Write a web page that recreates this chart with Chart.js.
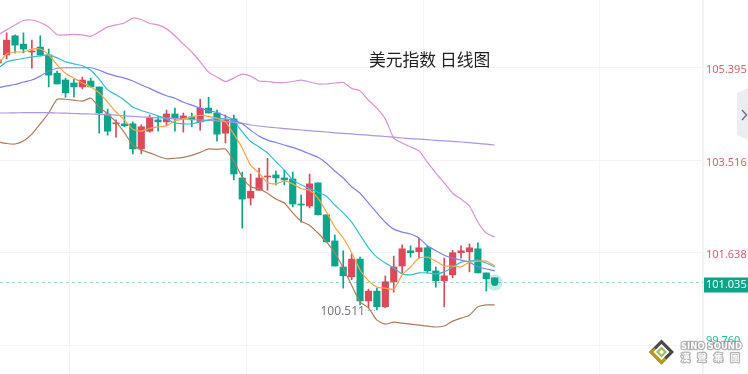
<!DOCTYPE html>
<html>
<head>
<meta charset="utf-8">
<script src="https://cdn.jsdelivr.net/npm/chart.js@4"></script>
<style>
html,body{margin:0;padding:0;background:#fff;overflow:hidden}
#w{position:relative;width:748px;height:374px}
canvas{display:block}
</style>
</head>
<body>
<div id="w"><canvas id="c" width="748" height="374"></canvas></div>
<script>
const titleText = '美元指数 日线图';
const lowLabel = '100.511';
const lastPrice = 101.035;
const tickLabels = [105.395, 103.516, 101.638, 101.035, 99.760];
const verticalGrid = [19, 40, 61, 82];

const opens = [105.50,105.66,106.05,105.88,105.72,105.82,105.66,105.29,105.15,105.09,105.01,105.13,105.01,104.46,104.26,104.26,104.26,103.75,104.11,104.34,104.30,104.46,104.36,104.40,104.30,104.58,104.48,104.07,104.36,103.16,102.75,102.91,103.18,103.22,103.16,103.14,102.63,102.59,103.06,102.41,101.88,101.35,101.15,101.51,100.66,100.86,100.54,101.05,101.37,101.68,101.66,101.74,101.27,101.07,101.19,101.64,101.66,101.72,101.23,101.13];
const closes = [105.56,105.96,105.86,105.78,105.74,105.66,105.25,105.07,104.89,105.01,105.15,105.01,104.48,104.11,104.28,104.22,103.75,104.20,104.38,104.30,104.46,104.36,104.42,104.34,104.58,104.48,104.05,104.34,103.24,102.73,102.89,103.16,103.20,103.16,103.12,102.63,102.61,103.04,102.41,101.86,101.37,101.17,101.51,100.66,100.86,100.54,101.05,101.35,101.72,101.64,101.74,101.27,101.07,101.17,101.64,101.68,101.74,101.23,101.11,101.035];
const highs = [105.60,106.11,106.07,106.11,105.96,106.05,105.78,105.33,105.19,105.17,105.21,105.19,105.01,104.56,104.34,104.52,104.30,104.24,104.44,104.42,104.54,104.58,104.48,104.48,104.76,104.80,104.54,104.44,104.44,103.28,103.24,103.36,103.56,103.30,103.32,103.28,102.81,103.24,103.06,102.41,102.00,101.68,101.61,101.55,100.90,100.92,101.17,101.57,101.80,101.78,101.94,101.78,101.35,101.53,101.69,101.78,101.82,101.84,101.23,101.13];
const lows = [105.46,105.58,105.70,105.70,105.39,105.64,105.01,105.07,104.80,104.80,104.97,105.01,104.07,104.03,103.99,104.20,103.65,103.65,104.09,104.11,104.22,104.11,104.09,104.20,104.13,104.48,103.91,103.87,103.12,102.14,102.61,102.91,102.91,103.02,103.02,102.57,102.26,102.55,102.41,101.86,101.37,100.92,101.09,100.58,100.52,100.48,100.52,100.84,101.23,101.55,101.53,101.23,100.94,100.54,101.13,101.53,101.25,101.23,100.86,101.035];

const bandUpper = [106.07,106.17,106.27,106.36,106.37,106.32,106.23,106.07,106.07,106.08,106.07,106.04,106.13,106.23,106.27,106.31,106.41,106.38,106.30,106.27,106.19,106.05,105.88,105.72,105.52,105.31,105.21,105.12,105.19,105.27,105.23,105.13,105.12,105.10,105.10,105.12,105.15,105.11,105.07,105.07,105.09,105.10,104.98,104.93,104.74,104.58,104.36,103.97,103.87,103.79,103.71,103.48,103.26,103.06,102.85,102.73,102.59,102.26,102.04,101.96];
const bandLower = [103.89,103.86,103.85,103.91,104.05,104.26,104.48,104.76,104.76,104.74,104.72,104.78,104.60,104.46,104.30,104.08,103.83,103.73,103.67,103.60,103.55,103.56,103.58,103.62,103.68,103.75,103.74,103.75,103.50,103.18,102.98,102.94,102.85,102.73,102.65,102.45,102.28,102.20,102.04,101.86,101.64,101.33,100.98,100.64,100.52,100.27,100.19,100.23,100.21,100.19,100.17,100.15,100.13,100.15,100.25,100.31,100.37,100.54,100.58,100.58];
const maBlue = [104.99,105.03,105.06,105.11,105.15,105.23,105.33,105.39,105.40,105.40,105.40,105.40,105.35,105.28,105.23,105.19,105.13,105.05,104.98,104.90,104.83,104.78,104.70,104.64,104.58,104.53,104.49,104.42,104.34,104.26,104.13,104.01,103.93,103.88,103.83,103.78,103.72,103.65,103.58,103.46,103.30,103.16,102.98,102.85,102.65,102.45,102.26,102.12,102.06,102.02,101.94,101.78,101.68,101.59,101.53,101.49,101.45,101.35,101.31,101.27];
const maCyan = [105.39,105.52,105.56,105.59,105.62,105.64,105.66,105.60,105.52,105.48,105.44,105.35,105.17,104.95,104.85,104.74,104.60,104.53,104.48,104.42,104.36,104.28,104.26,104.26,104.30,104.34,104.37,104.36,104.31,104.10,103.90,103.79,103.67,103.49,103.32,103.12,103.02,102.94,102.87,102.79,102.61,102.45,102.26,102.00,101.74,101.55,101.43,101.33,101.21,101.19,101.23,101.23,101.21,101.25,101.35,101.45,101.47,101.49,101.43,101.35];
const maOrange = [105.48,105.68,105.72,105.72,105.78,105.78,105.66,105.46,105.29,105.19,105.09,105.01,104.89,104.70,104.50,104.34,104.15,104.11,104.17,104.20,104.22,104.32,104.36,104.40,104.43,104.41,104.37,104.30,104.05,103.77,103.42,103.26,103.06,103.04,103.10,103.04,102.94,102.91,102.75,102.47,102.16,101.94,101.64,101.29,101.07,100.94,100.92,100.90,101.19,101.35,101.53,101.55,101.47,101.37,101.37,101.35,101.45,101.47,101.47,101.37];
const maPurple = [104.480,104.480,104.484,104.486,104.486,104.486,104.486,104.480,104.476,104.470,104.464,104.460,104.454,104.444,104.436,104.423,104.411,104.399,104.391,104.383,104.375,104.366,104.358,104.348,104.338,104.330,104.320,104.308,104.291,104.269,104.236,104.216,104.196,104.180,104.163,104.149,104.135,104.121,104.106,104.094,104.078,104.066,104.054,104.041,104.029,104.015,104.003,103.988,103.972,103.960,103.948,103.938,103.925,103.915,103.905,103.891,103.877,103.862,103.846,103.830];

const RED = '#dc4a5a', GREEN = '#0ba58b', TEAL_LABEL = '#26bfa0';
const X_MIN = 0.214, X_MAX = 83.75, Y_MIN = 99.175, Y_MAX = 106.777;
const lowIndex = 45;

const isUp = i => closes[i] >= opens[i];
const candleColors = opens.map((_, i) => isUp(i) ? RED : GREEN);
const wickData = lows.map((l, i) => ({x: i, y: [l, highs[i]]}));
const bodyData = opens.map((o, i) => ({x: i, y: [Math.min(o, closes[i]), Math.max(o, closes[i])]}));
const series = arr => arr.map((v, i) => ({x: i, y: v}));
const lineDs = (arr, color, order) => ({type: 'line', data: series(arr), borderColor: color, borderWidth: 1.2,
  pointRadius: 0, tension: 0.2, fill: false, order: order});
const noPadding = s => { s.paddingLeft = s.paddingRight = s.paddingTop = s.paddingBottom = 0; };

const extras = {
  id: 'extras',
  beforeDraw(chart) {
    const {ctx, scales: {y}} = chart;
    const p = y.getPixelForValue(lastPrice);
    ctx.save();
    ctx.fillStyle = GREEN;
    ctx.fillRect(703, p - 5, 45, 15);
    ctx.restore();
  },
  afterDraw(chart) {
    const {ctx, scales: {x, y}} = chart;
    ctx.save();
    // title
    ctx.fillStyle = '#1f1f1f';
    ctx.font = '16.8px "Noto Sans CJK SC"';
    ctx.textBaseline = 'alphabetic';
    ctx.textAlign = 'left';
    ctx.fillText(titleText, 369, 66);
    // low marker
    const lx = x.getPixelForValue(lowIndex), ly = y.getPixelForValue(lows[lowIndex]);
    ctx.fillStyle = '#77787f';
    ctx.font = '12px "Noto Sans"';
    ctx.textAlign = 'right';
    ctx.textBaseline = 'middle';
    ctx.fillText(lowLabel, lx - 12, ly + 2);
    ctx.strokeStyle = '#8a8a90';
    ctx.setLineDash([1, 2]);
    ctx.beginPath(); ctx.moveTo(lx - 9, ly + 0.5); ctx.lineTo(lx, ly + 0.5); ctx.stroke();
    ctx.setLineDash([]);
    // side handle
    ctx.fillStyle = '#ecedf1';
    ctx.beginPath();
    ctx.moveTo(748, 88); ctx.lineTo(737, 93); ctx.lineTo(737, 135); ctx.lineTo(748, 140);
    ctx.closePath(); ctx.fill();
    ctx.strokeStyle = '#6d7080'; ctx.lineWidth = 1.4;
    ctx.beginPath(); ctx.moveTo(742, 110); ctx.lineTo(746.5, 115); ctx.lineTo(742, 120); ctx.stroke();
    // watermark logo
    const cx = 661.5, cy = 352;
    const dia = (r, c) => { ctx.fillStyle = c; ctx.beginPath(); ctx.moveTo(cx, cy - r); ctx.lineTo(cx + r, cy); ctx.lineTo(cx, cy + r); ctx.lineTo(cx - r, cy); ctx.closePath(); ctx.fill(); };
    dia(12.5, '#4a4a4a');
    ctx.fillStyle = '#b59a1e';
    ctx.beginPath(); ctx.moveTo(cx - 12.5, cy); ctx.lineTo(cx, cy + 12.5); ctx.lineTo(cx + 5, cy + 7.5); ctx.lineTo(cx - 7, cy - 4); ctx.closePath(); ctx.fill();
    dia(8, '#ffffff');
    dia(5.5, '#9bbf5a');
    dia(2.5, '#ffffff');
    // watermark text
    ctx.textAlign = 'left';
    ctx.textBaseline = 'middle';
    ctx.lineJoin = 'round';
    ctx.font = 'bold 8.5px "DejaVu Sans"';
    ctx.strokeStyle = 'rgba(120,120,120,.55)'; ctx.lineWidth = 2.5;
    ctx.strokeText('SINO SOUND', 681, 347);
    ctx.fillStyle = '#fff';
    ctx.fillText('SINO SOUND', 681, 347);
    ctx.font = 'bold 9px "Noto Sans CJK TC"';
    ['漢', '聲', '集', '團'].forEach((ch, i) => {
      ctx.strokeText(ch, 681 + i * 16.5, 358);
      ctx.fillText(ch, 681 + i * 16.5, 358);
    });
    ctx.restore();
  }
};

new Chart(document.getElementById('c'), {
  data: {
    datasets: [
      {type: 'bar', data: wickData, backgroundColor: candleColors, barThickness: 1, grouped: false, order: 10},
      {type: 'bar', data: bodyData, backgroundColor: candleColors, barThickness: 6.5, grouped: false, order: 9},
      lineDs(bandUpper, '#e08fd6', 6),
      lineDs(bandLower, '#b27c58', 6),
      lineDs(maPurple, '#ad93ee', 5),
      lineDs(maBlue, '#7b82f2', 4),
      lineDs(maCyan, '#2fc0dc', 3),
      lineDs(maOrange, '#ffa244', 2),
      {type: 'line', data: [{x: X_MIN, y: lastPrice}, {x: X_MAX, y: lastPrice}], borderColor: 'rgba(11,165,139,.42)', borderWidth: 1, borderDash: [3, 3], pointRadius: 0, order: 8},
      {type: 'scatter', data: [{x: 59, y: lastPrice}], backgroundColor: 'rgba(11,165,139,.22)', borderWidth: 0, pointRadius: 8, order: 1},
      {type: 'scatter', data: [{x: 59, y: lastPrice}], backgroundColor: GREEN, borderWidth: 0, pointRadius: 3.5, order: 0}
    ]
  },
  plugins: [extras],
  options: {
    responsive: false,
    animation: false,
    events: [],
    layout: {padding: 0, autoPadding: false},
    plugins: {legend: {display: false}, tooltip: {enabled: false}, title: {display: false}},
    scales: {
      x: {
        type: 'linear', min: X_MIN, max: X_MAX, offset: false,
        afterBuildTicks(s) { s.ticks = verticalGrid.map(v => ({value: v})); },
        afterFit(s) { s.height = 0; noPadding(s); },
        ticks: {display: false},
        border: {display: false},
        grid: {color: '#f4f5f8', lineWidth: 1, drawTicks: false}
      },
      y: {
        type: 'linear', position: 'right', min: Y_MIN, max: Y_MAX,
        afterFit(s) { s.width = 45; noPadding(s); },
        afterBuildTicks(s) { s.ticks = tickLabels.map(v => ({value: v})); },
        ticks: {
          font: {family: '"Noto Sans"', size: 11},
          padding: 3, crossAlign: 'near', labelOffset: 2,
          autoSkip: false,
          color: c => c.tick.value === lastPrice ? '#ffffff' : (c.tick.value < 100 ? TEAL_LABEL : '#e0606e'),
          callback: v => v < 100 ? [v.toFixed(3), ''] : v.toFixed(3)
        },
        border: {display: true, color: '#f1f2f5', width: 2},
        grid: {
          color: c => c.tick && c.tick.value === lastPrice ? 'rgba(0,0,0,0)' : '#f3f4f7',
          lineWidth: 1, drawTicks: false
        }
      }
    }
  }
});
</script>
</body>
</html>
